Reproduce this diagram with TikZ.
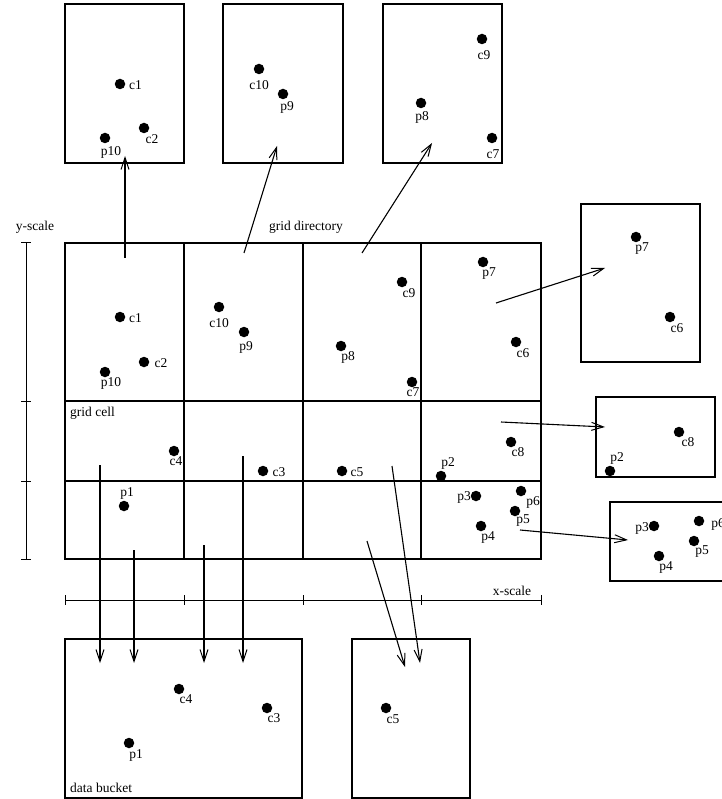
\documentclass[tikz,border=0pt]{standalone}
\usepackage{fontspec}
\setmainfont{Liberation Serif}
\usetikzlibrary{arrows.meta}
\begin{document}
\begin{tikzpicture}[x=1pt,y=-1pt,
  box/.style={draw, line width=1.4pt, inner sep=0pt, outer sep=0pt},
  dot/.style={circle, fill, inner sep=0pt, minimum size=10.5pt},
  lbl/.style={font=\fontsize{13.5}{13.5}\selectfont, inner sep=0pt},
  gridline/.style={line width=1.2pt},
  scaleline/.style={line width=1pt},
  arr/.style={-{Straight Barb[length=12pt,width=8pt,line width=1pt]}, line width=1.1pt}]
\useasboundingbox (0,0) rectangle (721,799);

% ---------- top buckets ----------
\node[box, minimum width=119pt, minimum height=159pt] (bA) at (124.5,83.5) {};
\node[box, minimum width=120pt, minimum height=159pt] (bB) at (283,83.5) {};
\node[box, minimum width=119pt, minimum height=159pt] (bC) at (442.5,83.5) {};
% right buckets
\node[box, minimum width=119pt, minimum height=158pt] (bD) at (640.5,283) {};
\node[box, minimum width=119pt, minimum height=80pt] (bE) at (655.5,437) {};
\node[box, minimum width=125pt, minimum height=79pt] (bF) at (672.5,541.5) {};
% bottom buckets
\node[box, minimum width=237pt, minimum height=159pt] (bG) at (183.5,718.5) {};
\node[box, minimum width=118pt, minimum height=159pt] (bH) at (411,718.5) {};

% ---------- grid directory ----------
\draw[gridline] (65,243) rectangle (541,559);
\draw[gridline] (184,243) -- (184,559);
\draw[gridline] (303,243) -- (303,559);
\draw[gridline] (421,243) -- (421,559);
\draw[gridline] (65,401) -- (541,401);
\draw[line width=2pt] (65,481) -- (541,481);

% scales
\draw[scaleline] (26,243) -- (26,559);
\foreach \yy in {243,401,481,559} \draw[scaleline] (21,\yy) -- (31,\yy);
\draw[scaleline] (65,600) -- (541,600);
\foreach \xx in {65,184,303,421,541} \draw[scaleline] (\xx,595) -- (\xx,605);

\node[lbl] (ys) at (35,227) {y-scale};
\node[lbl] (gd) at (306,227) {grid directory};
\node[lbl] (xs) at (512,591) {x-scale};
\node[lbl, anchor=west] (gc) at (70,413) {grid cell};
\node[lbl, anchor=west] (db) at (70,788) {data bucket};

% ---------- bucket A ----------
\node[dot] (A1) at (120,84) {};   \node[lbl] at (135.5,85) {c1};
\node[dot] (A2) at (144,128) {};  \node[lbl] at (152,139) {c2};
\node[dot] (A3) at (105,138) {};  \node[lbl] at (111,152) {p10};
% bucket B
\node[dot] (B1) at (259,69) {};   \node[lbl] at (259,85) {c10};
\node[dot] (B2) at (283,94) {};   \node[lbl] at (287,107) {p9};
% bucket C
\node[dot] (C1) at (482,39) {};   \node[lbl] at (484,55) {c9};
\node[dot] (C2) at (421,103) {};  \node[lbl] at (422,117) {p8};
\node[dot] (C3) at (492,138) {};  \node[lbl] at (493,154) {c7};

% ---------- grid points ----------
\node[dot] (g1) at (120,317) {};  \node[lbl] at (135.5,318) {c1};
\node[dot] (g2) at (144,362) {};  \node[lbl] at (161,363) {c2};
\node[dot] (g3) at (105,372) {};  \node[lbl] at (111,383) {p10};
\node[dot] (g4) at (219,307) {};  \node[lbl] at (219,323) {c10};
\node[dot] (g5) at (244,332) {};  \node[lbl] at (246,347) {p9};
\node[dot] (g6) at (341,346) {};  \node[lbl] at (348,357) {p8};
\node[dot] (g7) at (402,282) {};  \node[lbl] at (409,293) {c9};
\node[dot] (g8) at (412,382) {};  \node[lbl] at (413,392) {c7};
\node[dot] (g9) at (483,262) {};  \node[lbl] at (489,274) {p7};
\node[dot] (g10) at (516,342) {}; \node[lbl] at (523,353) {c6};
\node[dot] (g11) at (174,451) {}; \node[lbl] at (176,461) {c4};
\node[dot] (g12) at (263,471) {}; \node[lbl] at (279,472) {c3};
\node[dot] (g13) at (342,471) {}; \node[lbl] at (357,472) {c5};
\node[dot] (g14) at (511,442) {}; \node[lbl] at (518,452) {c8};
\node[dot] (g15) at (441,476) {}; \node[lbl] at (448,463) {p2};
\node[dot] (g16) at (124,506) {}; \node[lbl] at (127,493) {p1};
\node[dot] (g17) at (476,496) {}; \node[lbl] at (464,497) {p3};
\node[dot] (g18) at (521,491) {}; \node[lbl] at (533,502) {p6};
\node[dot] (g19) at (515,511) {}; \node[lbl] at (523,521) {p5};
\node[dot] (g20) at (481,526) {}; \node[lbl] at (488,537) {p4};

% ---------- bucket D, E, F ----------
\node[dot] (D1) at (636,237) {};  \node[lbl] at (642,249) {p7};
\node[dot] (D2) at (670,317) {};  \node[lbl] at (677,328) {c6};
\node[dot] (E1) at (679,432) {};  \node[lbl] at (688,442) {c8};
\node[dot] (E2) at (610,471) {};  \node[lbl] at (617,458) {p2};
\node[dot] (F1) at (654,526) {};  \node[lbl] at (642,528) {p3};
\node[dot] (F2) at (699,521) {};  \node[lbl] at (718,524) {p6};
\node[dot] (F3) at (694,541) {};  \node[lbl] at (702,552) {p5};
\node[dot] (F4) at (659,556) {};  \node[lbl] at (666,567) {p4};

% ---------- bucket G, H ----------
\node[dot] (G1) at (179,689) {};  \node[lbl] at (186,699) {c4};
\node[dot] (G2) at (267,708) {};  \node[lbl] at (274,718) {c3};
\node[dot] (G3) at (129,743) {};  \node[lbl] at (136,755) {p1};
\node[dot] (H1) at (386,708) {};  \node[lbl] at (393,719) {c5};

% ---------- arrow ends ----------
\coordinate (s1) at (125,258);  \coordinate (t1) at (125,156);
\coordinate (s2) at (244,253);  \coordinate (t2) at (277,146);
\coordinate (s3) at (362,253);  \coordinate (t3) at (432,143);
\coordinate (s4) at (496,303);  \coordinate (t4) at (605,268);
\coordinate (s5) at (501,422);  \coordinate (t5) at (605,427);
\coordinate (s6) at (520,530);  \coordinate (t6) at (628,540);
\coordinate (s7) at (100,465);  \coordinate (t7) at (100,663);
\coordinate (s8) at (134,550);  \coordinate (t8) at (134,663);
\coordinate (s9) at (204,545);  \coordinate (t9) at (204,663);
\coordinate (s10) at (243,456); \coordinate (t10) at (243,663);
\coordinate (s11) at (392,466); \coordinate (t11) at (420,663);
\coordinate (s12) at (367,541); \coordinate (t12) at (405,667);

\foreach \i in {1,...,12} \draw[arr] (s\i) -- (t\i);
\end{tikzpicture}
\end{document}
